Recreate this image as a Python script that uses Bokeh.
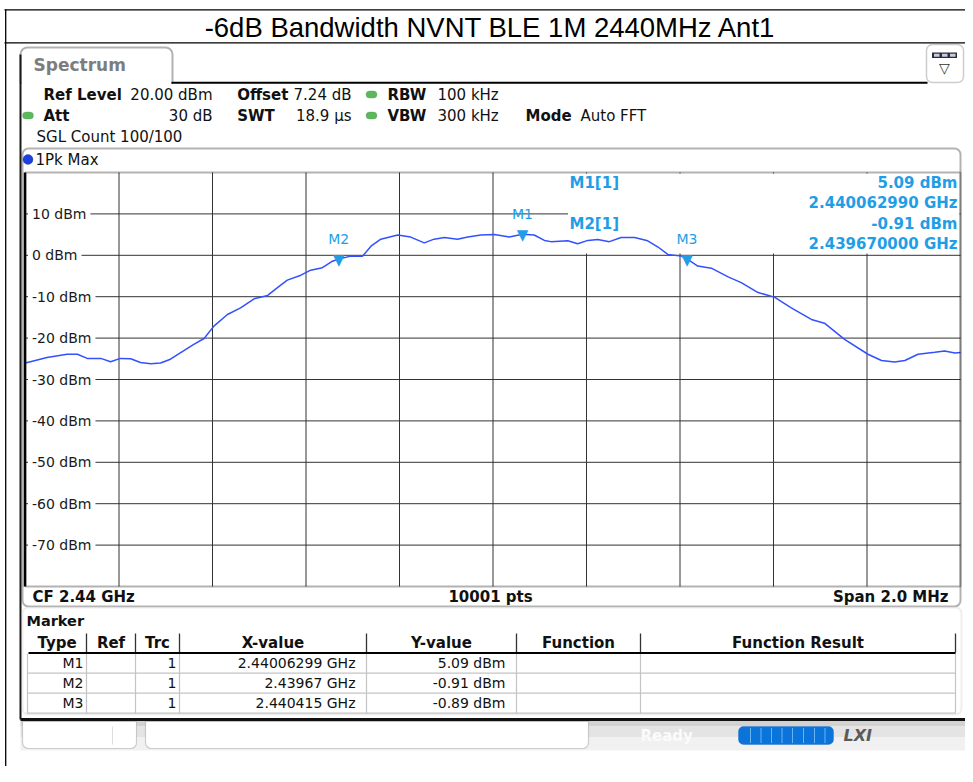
from bokeh.plotting import figure
from bokeh.models import Range1d, Label, BoxAnnotation, ColumnDataSource
from bokeh.core.properties import value
from bokeh.embed import file_html
from bokeh.resources import INLINE

# ---------------- data ----------------
TITLE = "-6dB Bandwidth NVNT BLE 1M 2440MHz Ant1"

freq_mhz = [2439.000, 2439.046, 2439.089, 2439.111, 2439.132, 2439.161, 2439.182, 2439.203,
            2439.225, 2439.246, 2439.268, 2439.289, 2439.310, 2439.332, 2439.360, 2439.382,
            2439.403, 2439.432, 2439.460, 2439.489, 2439.518, 2439.539, 2439.560, 2439.589,
            2439.610, 2439.635, 2439.655, 2439.670, 2439.696, 2439.721, 2439.739, 2439.760,
            2439.796, 2439.824, 2439.853, 2439.874, 2439.896, 2439.924, 2439.946, 2439.974,
            2440.003, 2440.035, 2440.063, 2440.088, 2440.110, 2440.124, 2440.160, 2440.181,
            2440.203, 2440.224, 2440.249, 2440.274, 2440.303, 2440.331, 2440.353, 2440.374,
            2440.403, 2440.415, 2440.438, 2440.467, 2440.503, 2440.531, 2440.567, 2440.602,
            2440.638, 2440.681, 2440.709, 2440.752, 2440.802, 2440.831, 2440.859, 2440.881,
            2440.909, 2440.945, 2440.966, 2440.988, 2441.000]
level_dbm = [-26.0, -24.7, -23.9, -23.9, -24.9, -24.9, -25.7, -24.9,
             -25.0, -25.9, -26.2, -26.0, -25.1, -23.5, -21.5, -20.1,
             -17.1, -14.3, -12.7, -10.5, -9.7, -7.8, -6.0, -4.8,
             -3.6, -3.0, -1.5, -0.91, -0.2, -0.2, 2.2, 3.9,
             4.9, 4.4, 3.0, 3.9, 4.3, 3.9, 4.4, 4.9,
             5.0, 4.4, 5.09, 4.9, 3.6, 3.3, 3.5, 2.8,
             3.6, 3.8, 3.3, 4.3, 4.3, 3.5, 2.0, 0.2,
             -0.2, -0.89, -2.6, -3.1, -5.2, -6.6, -9.0, -10.1,
             -12.7, -15.5, -16.4, -20.3, -23.9, -25.4, -25.8, -25.4,
             -23.9, -23.4, -23.1, -23.6, -23.5]

marker_names = ["M1", "M2", "M3"]
marker_freq_ghz = [2.44006299, 2.43967, 2.440415]
marker_level_dbm = [5.09, -0.91, -0.89]

y_ticks = [10, 0, -10, -20, -30, -40, -50, -60, -70]
y_min, y_max = -80, 20
cf_ghz = 2.44
span_mhz = 2.0
n_points = 10001
x_grid_mhz = [2439.2, 2439.4, 2439.6, 2439.8, 2440.0, 2440.2, 2440.4, 2440.6, 2440.8]

table_columns = ["Type", "Ref", "Trc", "X-value", "Y-value", "Function", "Function Result"]

# ---------------- layout (reference pixel space) ----------------
W, H = 965, 766
FL, FR, FT, FB = 25, 960, 172, 586          # spectrum grid area in pixels
FONT = "DejaVu Sans"
MC = "#1f9ee6"
TRACE = "#3350ff"
GRID = "#333333"

cf_mhz = cf_ghz * 1000
f_lo, f_hi = cf_mhz - span_mhz / 2, cf_mhz + span_mhz / 2
px_per_mhz = (FR - FL) / span_mhz
px_per_db = (FB - FT) / (y_max - y_min)

p = figure(width=W, height=H,
           x_range=Range1d(0, W), y_range=Range1d(H, 0),
           x_axis_type=None, y_axis_type=None, title=None,
           output_backend="svg", toolbar_location=None,
           min_border=0, min_border_left=0, min_border_right=0,
           min_border_top=0, min_border_bottom=0)
p.outline_line_color = None
p.background_fill_color = "white"
p.border_fill_color = "white"
p.grid.visible = False
# spectrum coordinate system mapped onto the grid area
p.extra_x_ranges = {"freq": Range1d(f_lo - FL / px_per_mhz, f_hi + (W - FR) / px_per_mhz)}
p.extra_y_ranges = {"dbm": Range1d(y_min - (H - FB) / px_per_db, y_max + FT / px_per_db)}
S = dict(x_range_name="freq", y_range_name="dbm")


def box(l, t, r, b, fill="white", line=None, lw=1.0, radius=0, level="annotation"):
    if isinstance(radius, tuple):
        radius = tuple(int(round(v)) for v in radius)
    else:
        radius = int(round(radius))
    p.add_layout(BoxAnnotation(left=l, right=r, top=t, bottom=b,
                               fill_color=fill, fill_alpha=1.0,
                               line_color=line, line_width=lw,
                               border_radius=radius, level=level))


def hline(x0, x1, y, color="black", w=1.0):
    box(x0, y - w / 2, x1, y + w / 2, fill=color)


def vline(x, y0, y1, color="black", w=1.0):
    box(x - w / 2, y0, x + w / 2, y1, fill=color)


def txt(x, y, s, size=15, bold=False, color="#111111", align="left", font=FONT, italic=False):
    style = "normal"
    if bold and italic:
        style = "bold italic"
    elif bold:
        style = "bold"
    elif italic:
        style = "italic"
    p.add_layout(Label(x=x, y=y, text=s,
                       text_font=font, text_font_size=f"{size}px", text_font_style=style,
                       text_color=color, text_align=align, text_baseline="middle"))


# ---------------- spectrum grid, mask, trace ----------------
p.segment(x0=x_grid_mhz, y0=[y_min] * len(x_grid_mhz), x1=x_grid_mhz, y1=[y_max] * len(x_grid_mhz),
          line_color=GRID, line_width=1, **S)
p.segment(x0=[f_lo] * len(y_ticks), y0=y_ticks, x1=[f_hi] * len(y_ticks), y1=y_ticks,
          line_color=GRID, line_width=1, **S)
# white readout area (hides grid, trace drawn over it)
p.quad(left=[567.5], right=[FR - 1], top=[FT + 1], bottom=[253], fill_color="white", line_color=None)

p.line(freq_mhz, level_dbm, line_color=TRACE, line_width=1.5, **S)

msrc = ColumnDataSource(dict(x=[f * 1000 for f in marker_freq_ghz], y=marker_level_dbm,
                             name=marker_names, tri=["\u25bc"] * len(marker_names)))
p.text(x="x", y="y", text="tri", source=msrc, text_align="center", text_baseline="alphabetic",
       text_font=value(FONT), text_font_size="15px", text_color=MC, y_offset=1, **S)
p.text(x="x", y="y", text="name", source=msrc, text_align="center", text_baseline="middle",
       text_font=value(FONT), text_font_size="14px", text_color=MC, y_offset=-20, **S)

for v in y_ticks:
    p.add_layout(Label(x=f_lo, y=v, x_offset=2.5, text=f"{v} dBm", padding=4,
                       text_font=FONT, text_font_size="14px", text_color="#1a1a1a",
                       text_align="left", text_baseline="middle",
                       background_fill_color="white", background_fill_alpha=1.0, **S))

# grid-area border
box(FL, FT, FR, FB, fill=None, line="black", lw=2)
vline(FL - 0.5, FT, FB, "black", 2.5)

# ---------------- page frame / title ----------------
hline(4, 980, 9.3, "black", 1.3)
hline(4, 980, 42.3, "black", 1.3)
vline(5.2, 9, 780, "black", 1.3)
txt(490, 26.5, TITLE, size=27.5, color="black", align="center", font="Liberation Sans")

# ---------------- instrument window ----------------
box(20, 47, 172, 82.5, fill="white", line="black", lw=2, radius=(7, 7, 0, 0))
box(21.3, 80.3, 170.7, 84.8, fill="white")
hline(171, 927, 82.3, "black", 2)
vline(20, 54, 719, "#1a1a1a", 2)
txt(33, 64.5, "Spectrum", size=17, bold=True, color="#7d7d7d")

box(926, 44, 963, 82, fill="white", line="#5a5a5a", lw=1.5, radius=6)
box(931.5, 52, 956.5, 57.5, fill="#2c2c3c")
for x0 in (933.5, 941.5, 949.5):
    box(x0, 53.3, x0 + 5.5, 56.2, fill="#c8cce0")
txt(944, 67, "\u25bd", size=14, color="#333333", align="center")


def dot(x, y):
    box(x - 5.5, y - 3.6, x + 5.5, y + 3.6, fill="#5cb85c", line="#3d8c3d", lw=0.8, radius=4)


txt(43, 94, "Ref Level", bold=True)
txt(212, 94, f"{y_max:.2f} dBm", align="right")
txt(236.7, 94, "Offset", bold=True)
txt(351, 94, "7.24 dB", align="right")
dot(371, 94)
txt(387, 94, "RBW", bold=True)
txt(437, 94, "100 kHz")

dot(27.5, 115)
txt(43, 115, "Att", bold=True)
txt(212, 115, "30 dB", align="right")
txt(236.7, 115, "SWT", bold=True)
txt(351, 115, "18.9 \u00b5s", align="right")
dot(371, 115)
txt(387, 115, "VBW", bold=True)
txt(437, 115, "300 kHz")
txt(525, 115, "Mode", bold=True)
txt(580, 115, "Auto FFT")

txt(36, 136, "SGL Count 100/100")

box(22, 148, 960, 606, fill=None, line="black", lw=2, radius=6)
box(22.5, 154, 32.5, 164, fill="#1d3fe0", line="#0b1f8a", lw=1, radius=5)
txt(35, 159.5, "1Pk Max", size=15)

txt(32, 596, f"CF {cf_ghz:.2f} GHz", bold=True)
txt(490, 596, f"{n_points} pts", bold=True, align="center")
txt(948, 596, f"Span {span_mhz:.1f} MHz", bold=True, align="right")

info = [(0, 182, 202), (1, 223, 243)]
for i, y1, y2 in info:
    txt(569, y1, f"{marker_names[i]}[1]", bold=True, color=MC)
    txt(957, y1, f"{marker_level_dbm[i]:.2f} dBm", bold=True, color=MC, align="right")
    txt(957, y2, f"{marker_freq_ghz[i]:.9f} GHz", bold=True, color=MC, align="right")

# ---------------- marker table ----------------
box(22, 607, 961, 714, fill="white", line="#c8c8c8", lw=2, radius=6)
txt(26, 620.5, "Marker", bold=True, size=14.5)
col_edges = [27, 86, 135, 179, 366, 516, 640, 955]
for i, name in enumerate(table_columns):
    txt((col_edges[i] + col_edges[i + 1]) / 2, 642.5, name, bold=True, size=15, align="center")
for x in col_edges[1:]:
    vline(x, 633, 652, "#333333", 1.3)
for x in col_edges:
    vline(x, 653, 713, "#c4c4c4", 1.2)
for y in (672.7, 692.7, 712.7):
    hline(27, 955, y, "#c4c4c4", 1.2)
hline(28, 955, 652.5, "black", 2)

row_y = [662.5, 682.5, 702.5]
for i, name in enumerate(marker_names):
    y = row_y[i]
    txt(83, y, name, size=14, align="right")
    txt(176, y, "1", size=14, align="right")
    xs = f"{marker_freq_ghz[i]:.8f}".rstrip("0")
    txt(355, y, f"{xs} GHz", size=14, align="right")
    txt(505, y, f"{marker_level_dbm[i]:.2f} dBm", size=14, align="right")

# ---------------- status bar ----------------
box(20, 720, 965, 726, fill="#d2d2d2")
box(20, 726, 965, 737, fill="#e4e4e4")
box(20, 737, 965, 750, fill="#f1f1f1")
hline(20, 965, 719, "#111111", 3)
box(22, 721, 136, 748, fill="white", line="#666666", lw=1.2, radius=(0, 0, 6, 6))
vline(112, 726, 744, "#dddddd", 1)
box(145, 721, 588, 748, fill="white", line="#666666", lw=1.2, radius=(0, 0, 6, 6))
txt(640, 735, "Ready", bold=True, color="#fbfbfb")
box(738, 726, 833, 744, fill="#0a74da", line="#0a5cb0", lw=1, radius=5)
for x in (750, 760.5, 771, 781.5, 792, 803, 814, 824.5):
    vline(x, 727.5, 742.5, "#6ab2f2", 1)
txt(843, 735, "LXI", bold=True, italic=True, color="#5a5a5a", size=16)

open("out.html", "w").write(file_html(p, INLINE))
